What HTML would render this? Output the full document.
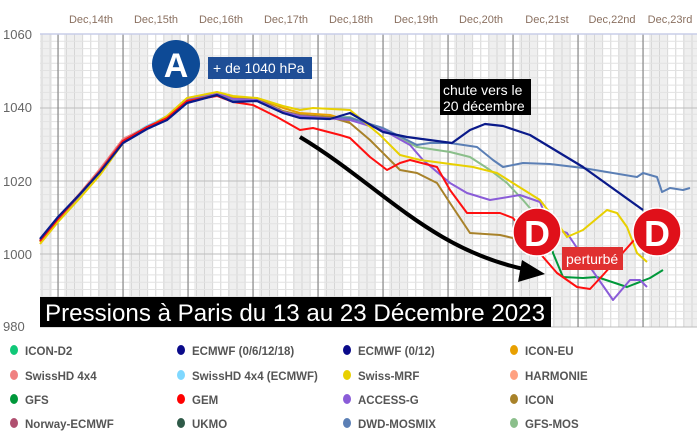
<!DOCTYPE html>
<html><head><meta charset="utf-8"><style>
body{margin:0;background:#fff;width:700px;height:432px;overflow:hidden;font-family:"Liberation Sans",sans-serif}
</style></head><body>
<svg width="700" height="432" xmlns="http://www.w3.org/2000/svg" font-family="Liberation Sans, sans-serif">
<g fill="#efefef">
<rect x="40" y="34" width="12" height="293"/>
<rect x="64" y="34" width="18" height="293"/><rect x="98" y="34" width="17" height="293"/>
<rect x="129" y="34" width="18" height="293"/><rect x="163" y="34" width="17" height="293"/>
<rect x="194" y="34" width="18" height="293"/><rect x="228" y="34" width="17" height="293"/>
<rect x="259" y="34" width="18" height="293"/><rect x="293" y="34" width="17" height="293"/>
<rect x="324" y="34" width="18" height="293"/><rect x="358" y="34" width="17" height="293"/>
<rect x="389" y="34" width="18" height="293"/><rect x="423" y="34" width="17" height="293"/>
<rect x="454" y="34" width="18" height="293"/><rect x="488" y="34" width="17" height="293"/>
<rect x="519" y="34" width="18" height="293"/><rect x="553" y="34" width="17" height="293"/>
<rect x="584" y="34" width="18" height="293"/><rect x="618" y="34" width="17" height="293"/>
<rect x="649" y="34" width="18" height="293"/><rect x="683" y="34" width="14" height="293"/>
</g>
<g stroke="#d6d6d6" stroke-width="1" id="vminor"></g>
<g stroke="#e2e2e2" stroke-width="1" id="hminor"></g>
<g stroke="#bdbdbd" stroke-width="1">
<line x1="40" y1="108" x2="697" y2="108"/><line x1="40" y1="181" x2="697" y2="181"/><line x1="40" y1="254" x2="697" y2="254"/><line x1="40" y1="327" x2="697" y2="327"/>
</g>
<g stroke="#777" stroke-width="1">
<line x1="58" y1="34" x2="58" y2="327"/><line x1="123" y1="34" x2="123" y2="327"/><line x1="188" y1="34" x2="188" y2="327"/><line x1="253" y1="34" x2="253" y2="327"/><line x1="318" y1="34" x2="318" y2="327"/><line x1="383" y1="34" x2="383" y2="327"/><line x1="448" y1="34" x2="448" y2="327"/><line x1="513" y1="34" x2="513" y2="327"/><line x1="578" y1="34" x2="578" y2="327"/><line x1="643" y1="34" x2="643" y2="327"/>
</g>
<line x1="40" y1="34" x2="697" y2="34" stroke="#c8cde8" stroke-width="1.5"/>
<g fill="#666" font-size="13">
<text x="3" y="39">1060</text><text x="3" y="112">1040</text><text x="3" y="186">1020</text><text x="3" y="259">1000</text><text x="3" y="331">980</text>
</g>
<g fill="#8a7060" font-size="11" text-anchor="middle">
<text x="91" y="23">Dec,14th</text><text x="156" y="23">Dec,15th</text><text x="221" y="23">Dec,16th</text><text x="286" y="23">Dec,17th</text><text x="351" y="23">Dec,18th</text><text x="416" y="23">Dec,19th</text><text x="481" y="23">Dec,20th</text><text x="547" y="23">Dec,21st</text><text x="612" y="23">Dec,22nd</text><text x="670" y="23">Dec,23rd</text>
</g>
<g fill="none" stroke-width="2" stroke-linejoin="round">
<polyline stroke="#8bbf8b" points="40,241 58,219 80,195 100,171 123,140 147,126 167,117 187,101 217,94 233,100 257,100 283,112 300,117 350,117 383,130 417,147 450,152 470,157 490,170 507,183 523,200 540,220 550,240"/>
<polyline stroke="#f08080" points="40,240 58,218 80,193 100,169 123,139 147,127 167,117 187,100 217,93 233,99 257,101 283,113 300,118 350,119"/>
<polyline stroke="#7fd8ff" points="40,241 58,219 80,194 100,171 123,141 147,126 167,116 187,99 217,94 233,99 257,100 283,112 300,116 350,118"/>
<polyline stroke="#e8a000" points="40,242 58,220 80,195 100,172 123,141 147,128 167,117 187,100 217,93 233,98 257,98 283,108 300,113 330,115 350,121"/>
<polyline stroke="#5b7fb5" points="40,241 58,219 80,195 100,171 123,141 147,127 167,118 187,100 217,94 233,100 257,100 283,112 300,117 350,118 383,128 417,145 430,143 450,143 477,147 493,160 503,167 523,163 550,164 583,168 637,177 643,173 657,177 662,192 670,188 683,190 690,188"/>
<polyline stroke="#a8822a" points="40,241 58,219 80,194 100,171 123,141 147,127 167,118 187,100 217,94 233,99 257,99 283,111 300,115 330,117 350,123 370,140 393,163 400,170 417,173 437,183 450,203 470,233 500,235 513,238 537,247"/>
<polyline stroke="#00983a" points="540,222 550,240 553,253 563,277 583,278 597,277 627,287 650,278 663,270"/>
<polyline stroke="#8a5cd8" points="40,241 58,219 80,194 100,171 123,141 147,127 167,117 187,99 217,93 233,99 257,100 283,112 300,116 350,120 383,130 410,145 423,160 450,183 467,193 490,200 520,195 540,202 550,227 567,233 583,257 613,300 630,280 640,280 647,287"/>
<polyline stroke="#e8d000" points="40,244 58,222 80,198 100,175 123,143 147,128 167,116 187,98 217,92 233,96 257,98 283,106 300,110 313,108 350,110 380,135 400,155 420,160 473,167 497,173 540,200 550,213 567,237 583,230 607,210 617,213 627,227 637,253 647,262"/>
<polyline stroke="#ff1010" points="40,241 58,219 80,194 100,171 123,141 147,127 167,118 187,101 217,96 233,102 253,105 277,117 300,130 313,128 340,135 350,138 370,157 387,170 400,163 410,160 437,167 450,190 467,213 500,213 513,218 537,250 557,273 577,287 590,289 603,275 643,230"/>
<polyline stroke="#0a1a8a" stroke-width="2.2" points="40,239 58,217 80,194 100,172 123,143 147,129 167,120 187,103 217,95 233,102 257,101 283,113 300,118 330,119 350,113 383,132 407,137 452,143 470,130 485,124 503,126 530,135 583,167 643,210"/>
</g>
<path d="M300,137 C380,185 430,250 528,270" fill="none" stroke="#000" stroke-width="4"/>
<polygon points="545,274 522,260 518,282" fill="#000"/>
<rect x="40" y="297" width="511" height="30" fill="#000"/>
<text x="45" y="321" fill="#fff" font-size="24.5" textLength="500" lengthAdjust="spacingAndGlyphs">Pressions à Paris du 13 au 23 Décembre 2023</text>
<circle cx="176" cy="64" r="24" fill="#0d4a96"/>
<text x="176" y="77" fill="#fff" font-size="34" font-weight="bold" text-anchor="middle">A</text>
<rect x="208" y="57" width="104" height="22" fill="#1f4e96"/>
<text x="213" y="73" fill="#fff" font-size="14">+ de 1040 hPa</text>
<rect x="440" y="79" width="91" height="36" fill="#000"/>
<text x="443" y="95" fill="#fff" font-size="14">chute vers le</text>
<text x="443" y="111" fill="#fff" font-size="14">20 décembre</text>
<circle cx="537" cy="232" r="24" fill="#e0101a" stroke="#fff" stroke-width="1.5"/>
<text x="537" y="246" fill="#fff" font-size="36" font-weight="bold" text-anchor="middle">D</text>
<circle cx="657" cy="232" r="24" fill="#e0101a" stroke="#fff" stroke-width="1.5"/>
<text x="657" y="246" fill="#fff" font-size="36" font-weight="bold" text-anchor="middle">D</text>
<rect x="562" y="247" width="61" height="23" fill="#e03030"/>
<text x="566" y="264" fill="#fff" font-size="14">perturbé</text>
<g font-size="11.5" fill="#555" font-weight="bold">
<ellipse cx="14" cy="350" rx="4" ry="5" fill="#10c878"/><text x="25" y="355">ICON-D2</text>
<ellipse cx="181" cy="350" rx="4" ry="5" fill="#0a0a8a"/><text x="192" y="355">ECMWF (0/6/12/18)</text>
<ellipse cx="347" cy="350" rx="4" ry="5" fill="#0a0a8a"/><text x="358" y="355">ECMWF (0/12)</text>
<ellipse cx="514" cy="350" rx="4" ry="5" fill="#e8a000"/><text x="525" y="355">ICON-EU</text>
<ellipse cx="14" cy="375" rx="4" ry="5" fill="#f08080"/><text x="25" y="380">SwissHD 4x4</text>
<ellipse cx="181" cy="375" rx="4" ry="5" fill="#7fd8ff"/><text x="192" y="380">SwissHD 4x4 (ECMWF)</text>
<ellipse cx="347" cy="375" rx="4" ry="5" fill="#e8d000"/><text x="358" y="380">Swiss-MRF</text>
<ellipse cx="514" cy="375" rx="4" ry="5" fill="#ffa080"/><text x="525" y="380">HARMONIE</text>
<ellipse cx="14" cy="399" rx="4" ry="5" fill="#00983a"/><text x="25" y="404">GFS</text>
<ellipse cx="181" cy="399" rx="4" ry="5" fill="#ff0000"/><text x="192" y="404">GEM</text>
<ellipse cx="347" cy="399" rx="4" ry="5" fill="#8a5cd8"/><text x="358" y="404">ACCESS-G</text>
<ellipse cx="514" cy="399" rx="4" ry="5" fill="#a8822a"/><text x="525" y="404">ICON</text>
<ellipse cx="14" cy="423" rx="4" ry="5" fill="#b05070"/><text x="25" y="428">Norway-ECMWF</text>
<ellipse cx="181" cy="423" rx="4" ry="5" fill="#2f5a48"/><text x="192" y="428">UKMO</text>
<ellipse cx="347" cy="423" rx="4" ry="5" fill="#5b7fb5"/><text x="358" y="428">DWD-MOSMIX</text>
<ellipse cx="514" cy="423" rx="4" ry="5" fill="#8bbf8b"/><text x="525" y="428">GFS-MOS</text>
</g>
</svg>
<script>
(function(){
var ns="http://www.w3.org/2000/svg";
var v=document.getElementById("vminor");
for(var x=42;x<697;x+=65/8){var l=document.createElementNS(ns,"line");l.setAttribute("x1",x);l.setAttribute("x2",x);l.setAttribute("y1",34);l.setAttribute("y2",327);v.appendChild(l);}
var h=document.getElementById("hminor");
for(var i=1;i<40;i++){if(i%10==0)continue;var y=34+i*7.3;var l=document.createElementNS(ns,"line");l.setAttribute("x1",40);l.setAttribute("x2",697);l.setAttribute("y1",y);l.setAttribute("y2",y);h.appendChild(l);}
})();
</script>
</body></html>
